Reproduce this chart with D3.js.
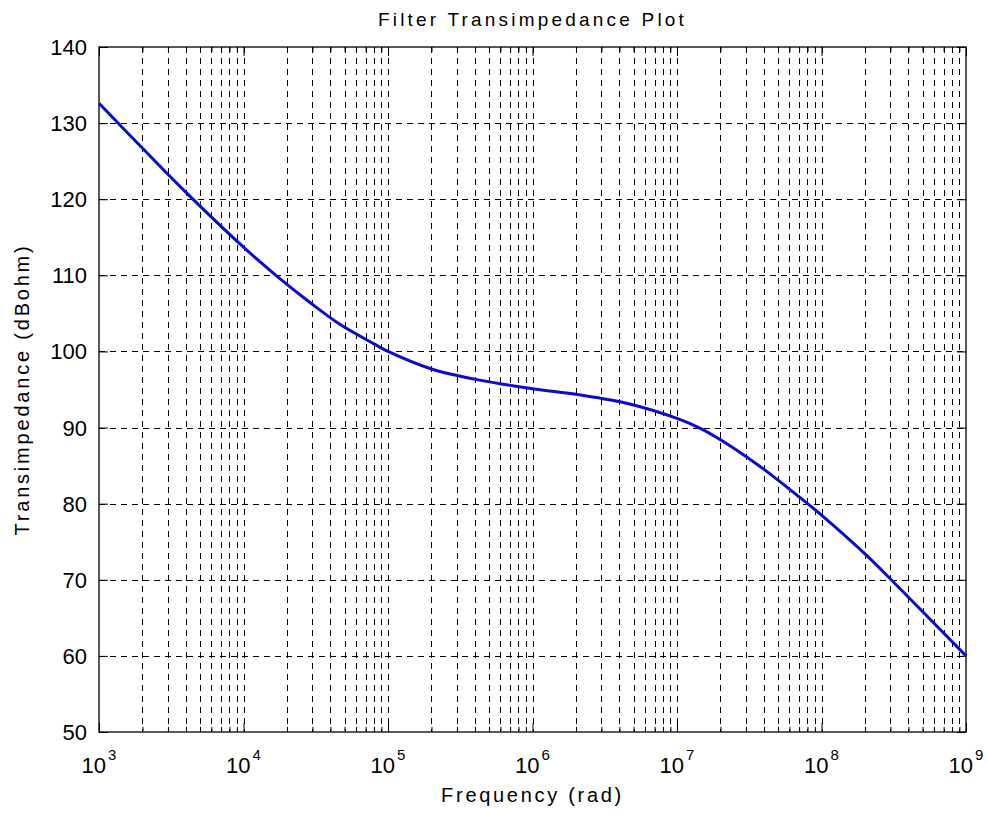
<!DOCTYPE html>
<html>
<head>
<meta charset="utf-8">
<script src="https://cdn.jsdelivr.net/npm/d3@7"></script>
<style>
  body { margin: 0; background: #fff; }
  text { font-family: "Liberation Sans", Arial, sans-serif; fill: #000; }
</style>
</head>
<body>
<div id="myGraph"></div>
<script>
// データ (周波数 rad, 伝達インピーダンス dBohm)
var freqs = [1e3, 2e3, 4e3, 1e4, 1.7e4, 2.9e4, 4.7e4, 8e4, 1e5, 2e5, 4.4e5, 1e6,
  2.1e6, 4.7e6, 1e7, 1.45e7, 2e7, 3e7, 4e7, 5e7, 7e7, 1e8, 2e8, 3e8, 1e9];
var dbOhm = [132.6, 126.7, 120.9, 113.7, 109.9, 106.4, 103.5, 101.0, 100.0, 97.7, 96.2, 95.1,
  94.3, 93.1, 91.2, 89.9, 88.4, 86.2, 84.5, 83.1, 80.9, 78.5, 73.4, 70.1, 60.0];
var xExps = [3, 4, 5, 6, 7, 8, 9];
var yTicks = [50, 60, 70, 80, 90, 100, 110, 120, 130, 140];

var titleText = "Filter Transimpedance Plot";
var xLabel = "Frequency (rad)";
var yLabel = "Transimpedance (dBohm)";

var width = 987, height = 818;
// プロット領域 (window.top と衝突しないように名前を変える)
var plotL = 99, plotR = 966, plotT = 47, plotB = 732;

var svg = d3.select("#myGraph")
  .append("svg")
  .attr("width", width)
  .attr("height", height);

svg.append("rect")
  .attr("width", width)
  .attr("height", height)
  .attr("fill", "#fff");

var x = d3.scaleLog().domain([1e3, 1e9]).range([plotL, plotR]);
var y = d3.scaleLinear().domain([50, 140]).range([plotB, plotT]);

// 対数グリッド (主目盛りと補助目盛り)
var minorVals = [];
xExps.forEach(function(e) {
  if (e == 9) return;
  for (var k = 2; k <= 9; k++) minorVals.push(k * Math.pow(10, e));
});
var majorVals = xExps.map(function(e) { return Math.pow(10, e); });

var grid = svg.append("g")
  .attr("stroke", "#000")
  .attr("stroke-width", 1)
  .attr("stroke-dasharray", "6,5");

grid.selectAll(".vg")
  .data(minorVals.concat(majorVals.slice(1, -1)))
  .enter()
  .append("line")
  .attr("x1", d => Math.round(x(d)) + 0.5)
  .attr("x2", d => Math.round(x(d)) + 0.5)
  .attr("y1", plotT)
  .attr("y2", plotB);

grid.selectAll(".hg")
  .data(yTicks.slice(1, -1))
  .enter()
  .append("line")
  .attr("x1", plotL)
  .attr("x2", plotR)
  .attr("y1", d => Math.round(y(d)) + 0.5)
  .attr("y2", d => Math.round(y(d)) + 0.5);

// 軸 (目盛りは内側)
var xAxisB = d3.axisBottom(x).tickValues(majorVals).tickSize(-9).tickFormat("");
var xAxisT = d3.axisTop(x).tickValues(majorVals).tickSize(-9).tickFormat("");
var xMinB = d3.axisBottom(x).tickValues(minorVals).tickSize(-5).tickFormat("");
var xMinT = d3.axisTop(x).tickValues(minorVals).tickSize(-5).tickFormat("");
var yAxisL = d3.axisLeft(y).tickValues(yTicks).tickSize(-9).tickFormat("");
var yAxisR = d3.axisRight(y).tickValues(yTicks).tickSize(-9).tickFormat("");

[[xAxisB, "translate(0," + plotB + ")"], [xMinB, "translate(0," + plotB + ")"],
 [xAxisT, "translate(0," + plotT + ")"], [xMinT, "translate(0," + plotT + ")"],
 [yAxisL, "translate(" + plotL + ",0)"], [yAxisR, "translate(" + plotR + ",0)"]].forEach(function(a) {
  var g = svg.append("g").attr("transform", a[1]).call(a[0]);
  g.select(".domain").remove();
  g.selectAll("line").attr("stroke", "#000");
});

// 枠
svg.append("rect")
  .attr("x", plotL)
  .attr("y", plotT)
  .attr("width", plotR - plotL)
  .attr("height", plotB - plotT)
  .attr("fill", "none")
  .attr("stroke", "#000")
  .attr("stroke-width", 1.3);

// 曲線
var points = freqs.map((f, i) => [f, dbOhm[i]]);
var line = d3.line()
  .x(d => x(d[0]))
  .y(d => y(d[1]))
  .curve(d3.curveCatmullRom.alpha(0.5));

svg.append("path")
  .datum(points)
  .attr("d", line)
  .attr("fill", "none")
  .attr("stroke", "#0a0ad2")
  .attr("stroke-width", 3);

// 目盛りラベル
svg.selectAll(".ylab")
  .data(yTicks)
  .enter()
  .append("text")
  .attr("x", plotL - 12)
  .attr("y", d => y(d) + 8)
  .attr("text-anchor", "end")
  .attr("font-size", 22)
  .text(d => d);

var xl = svg.selectAll(".xlab")
  .data(xExps)
  .enter()
  .append("text")
  .attr("x", d => x(Math.pow(10, d)))
  .attr("y", plotB + 41)
  .attr("text-anchor", "middle")
  .attr("font-size", 22);
xl.append("tspan").text("10");
xl.append("tspan")
  .attr("font-size", 15)
  .attr("dx", 2)
  .attr("dy", -13)
  .text(d => d);

// タイトルと軸ラベル
svg.append("text")
  .attr("x", (plotL + plotR) / 2)
  .attr("y", 26)
  .attr("text-anchor", "middle")
  .attr("font-size", 19)
  .attr("letter-spacing", 3.2)
  .text(titleText);

svg.append("text")
  .attr("x", (plotL + plotR) / 2)
  .attr("y", 802)
  .attr("text-anchor", "middle")
  .attr("font-size", 20)
  .attr("letter-spacing", 2.7)
  .text(xLabel);

svg.append("text")
  .attr("transform", "translate(29," + (plotT + plotB) / 2 + ") rotate(-90)")
  .attr("text-anchor", "middle")
  .attr("font-size", 20)
  .attr("letter-spacing", 2.8)
  .text(yLabel);
</script>
</body>
</html>
